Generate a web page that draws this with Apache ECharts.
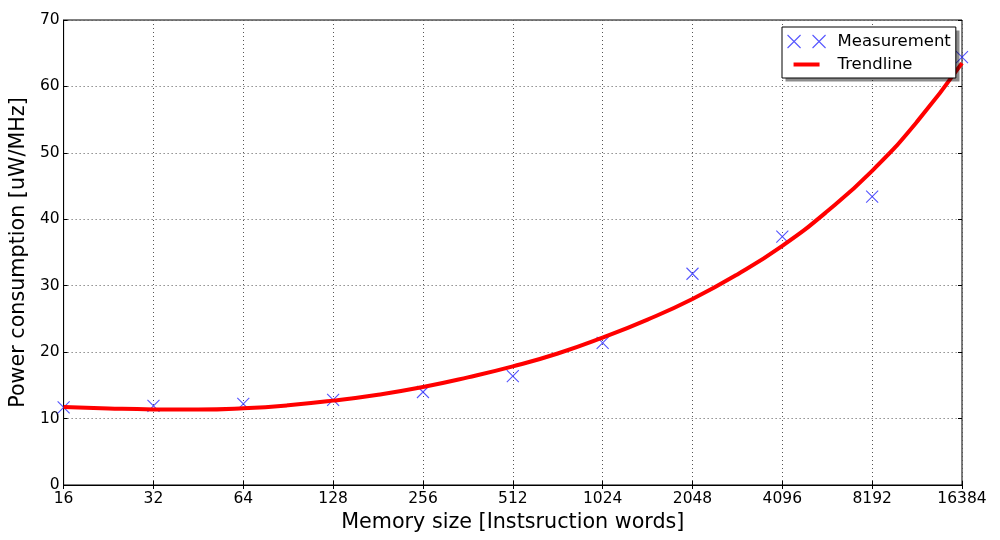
<!DOCTYPE html>
<html>
<head>
<meta charset="utf-8">
<script src="https://cdn.jsdelivr.net/npm/echarts@6/dist/echarts.min.js"></script>
<style>html,body{margin:0;padding:0;background:#fff}#c{width:1000px;height:540px}</style>
</head>
<body>
<div id="c"></div>
<script>
// ---- data ----
const xTickValues = [16, 32, 64, 128, 256, 512, 1024, 2048, 4096, 8192, 16384];
const yTickValues = [0, 10, 20, 30, 40, 50, 60, 70];

const measurementX = [16, 32, 64, 128, 256, 512, 1024, 2048, 4096, 8192, 16384];
const measurementY = [11.7, 11.9, 12.2, 12.8, 14.0, 16.4, 21.4, 31.8, 37.4, 43.4, 64.4];

const trendX = [16, 22.63, 32, 45.25, 64, 90.51, 128, 181.02, 256, 362.04, 512, 724.08,
                1024, 1448.15, 2048, 2896.31, 4096, 5792.62, 8192, 11585.24, 16384];
const trendY = [11.75, 11.52, 11.38, 11.36, 11.55, 12.0, 12.7, 13.6, 14.75, 16.2, 17.85, 19.8,
                22.2, 24.9, 28.0, 31.7, 36.0, 41.2, 47.3, 54.7, 63.5];

const seriesNames = ['Measurement', 'Trendline'];
const xTitle = 'Memory size [Instsruction words]';
const yTitle = 'Power consumption [uW/MHz]';

// ---- chart ----
const FONT = 'DejaVu Sans';
const chart = echarts.init(document.getElementById('c'), null, {renderer: 'canvas'});

const xBase = {
  type: 'log', logBase: 2,
  min: xTickValues[0], max: xTickValues[xTickValues.length - 1],
  splitNumber: xTickValues.length - 1, interval: 1
};
const yBase = {
  type: 'value',
  min: yTickValues[0], max: yTickValues[yTickValues.length - 1],
  interval: yTickValues[1] - yTickValues[0]
};
const tickStyle = {show: true, inside: true, length: 4, lineStyle: {color: '#000', width: 1}};

const option = {
  animation: false,
  backgroundColor: '#fff',
  grid: {left: 60, right: 38, top: 20, bottom: 55, show: true,
         borderColor: '#000', borderWidth: 1, backgroundColor: 'rgba(0,0,0,0)'},
  xAxis: [
    Object.assign({}, xBase, {
      position: 'bottom',
      name: xTitle, nameLocation: 'middle', nameGap: 19,
      nameTextStyle: {fontFamily: FONT, fontSize: 20.7, color: '#000'},
      axisLine: {show: true, lineStyle: {color: '#000', width: 1}},
      axisTick: tickStyle,
      axisLabel: {fontFamily: FONT, fontSize: 15.5, color: '#000', margin: 6,
                  showMinLabel: true, showMaxLabel: true,
                  formatter: v => String(Math.round(v))},
      splitLine: {show: true, lineStyle: {color: '#555', type: [1, 3], width: 1}}
    }),
    Object.assign({}, xBase, {
      position: 'top',
      axisLine: {show: false}, axisTick: tickStyle,
      axisLabel: {show: false}, splitLine: {show: false}
    })
  ],
  yAxis: [
    Object.assign({}, yBase, {
      position: 'left',
      name: yTitle, nameLocation: 'middle', nameGap: 24, nameRotate: 90,
      nameTextStyle: {fontFamily: FONT, fontSize: 20.7, color: '#000'},
      axisLine: {show: true, lineStyle: {color: '#000', width: 1}},
      axisTick: tickStyle,
      axisLabel: {fontFamily: FONT, fontSize: 15.5, color: '#000', margin: 4},
      splitLine: {show: true, lineStyle: {color: '#555', type: [1, 3], width: 1}}
    }),
    Object.assign({}, yBase, {
      position: 'right',
      axisLine: {show: false}, axisTick: tickStyle,
      axisLabel: {show: false}, splitLine: {show: false}
    })
  ],
  legend: {
    orient: 'vertical', left: 782, top: 27,
    padding: [6, 5, 5, 5], itemGap: 6, itemWidth: 38, itemHeight: 13,
    backgroundColor: '#fff', borderColor: '#000', borderWidth: 1, borderRadius: 0,
    selectedMode: false, z: 10,
    textStyle: {fontFamily: FONT, fontSize: 16.5, color: '#000', padding: [0, 0, 0, 7]},
    data: [
      {name: seriesNames[0],
       icon: 'path://M0,0L13,13M13,0L0,13M25,0L38,13M38,0L25,13',
       itemStyle: {color: 'rgba(0,0,0,0)', borderColor: '#2a2aff', borderWidth: 1.1}},
      {name: seriesNames[1],
       icon: 'path://M0,0M38,13M6,4.5L32,4.5L32,8.5L6,8.5Z',
       itemStyle: {color: '#ff0000', borderWidth: 0, borderColor: 'rgba(0,0,0,0)'}}
    ]
  },
  series: [
    {
      name: seriesNames[0], type: 'scatter',
      data: measurementX.map((x, i) => [x, measurementY[i]]),
      symbol: 'path://M0,0L10,10M10,0L0,10', symbolSize: 12,
      itemStyle: {color: 'rgba(0,0,0,0)', borderColor: '#2a2aff', borderWidth: 1.1},
      clip: true, z: 2, silent: true
    },
    {
      name: seriesNames[1], type: 'line',
      data: trendX.map((x, i) => [x, trendY[i]]),
      smooth: true, symbol: 'none', showSymbol: false,
      lineStyle: {color: '#ff0000', width: 4},
      itemStyle: {color: '#ff0000'},
      clip: true, z: 3, silent: true
    }
  ]
};
chart.setOption(option);

// legend drop shadow: a gray box offset behind the legend frame
let box = {x: 782, y: 27, width: 174, height: 52};
try {
  const lm = chart.getModel().getComponent('legend');
  const lv = chart.getViewOfComponentModel(lm);
  const r = lv.group.getBoundingRect().clone();
  r.applyTransform(lv.group.getLocalTransform());
  if (r.width > 0 && r.height > 0) box = {x: r.x, y: r.y, width: r.width, height: r.height};
} catch (e) {}
chart.setOption({
  graphic: [{
    type: 'rect', z: 5, silent: true,
    shape: {x: Math.round(box.x) + 3.5, y: Math.round(box.y) + 3.5,
            width: Math.round(box.width) - 1, height: Math.round(box.height) - 1},
    style: {fill: 'rgba(0,0,0,0.45)'}
  }]
});
</script>
</body>
</html>
